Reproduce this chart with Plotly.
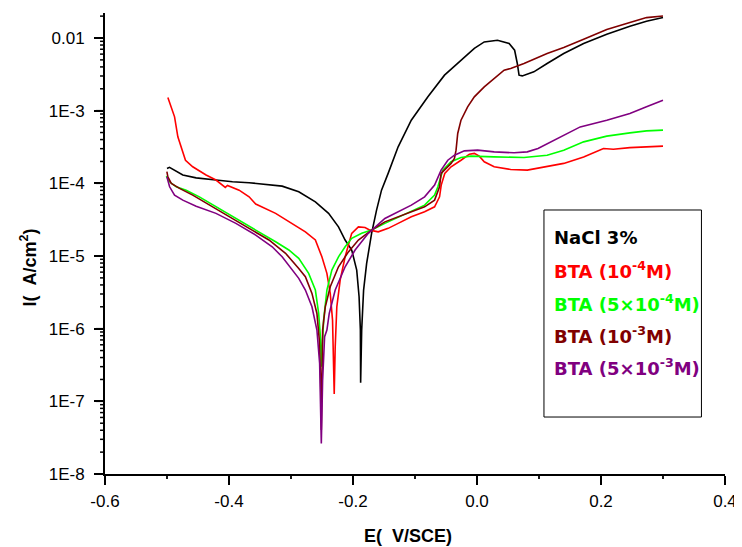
import plotly.graph_objects as go

# ---- data (E in V/SCE, I in A/cm^2) ----
E_nacl = [-0.500, -0.496, -0.4745, -0.453, -0.421, -0.3944, -0.3676, -0.341, -0.3143, -0.2875,
          -0.2607, -0.2394, -0.2234, -0.2127, -0.2021, -0.194, -0.1902, -0.1881, -0.1877, -0.186,
          -0.1829, -0.178, -0.170, -0.162, -0.154, -0.1433, -0.1272, -0.106, -0.0792, -0.0524,
          -0.0258, -0.0043, 0.0117, 0.033, 0.0518, 0.0607, 0.065, 0.0678, 0.073, 0.0917,
          0.1131, 0.1399, 0.172, 0.2093, 0.2466, 0.2734, 0.300]
I_nacl = [1.60e-4, 1.66e-4, 1.30e-4, 1.19e-4, 1.11e-4, 1.05e-4, 1.02e-4, 9.75e-5, 9.15e-5, 7.64e-5,
          5.57e-5, 3.86e-5, 2.52e-5, 1.66e-5, 1.21e-5, 6.40e-6, 2.75e-6, 9.57e-7, 1.80e-7, 9.6e-7,
          3.40e-6, 7.9e-6, 2.05e-5, 4.28e-5, 8.05e-5, 1.37e-4, 3.18e-4, 7.40e-4, 1.55e-3, 3.08e-3,
          4.96e-3, 7.18e-3, 8.83e-3, 9.33e-3, 8.40e-3, 6.79e-3, 4.46e-3, 3.08e-3, 3.01e-3, 3.42e-3,
          4.46e-3, 6.12e-3, 8.40e-3, 1.13e-2, 1.45e-2, 1.70e-2, 1.91e-2]

E_bta1 = [-0.4986, -0.4878, -0.4825, -0.4745, -0.4702, -0.4585, -0.437, -0.421, -0.4104, -0.406,
          -0.4024, -0.3837, -0.3676, -0.3569, -0.3248, -0.2982, -0.2768, -0.2607, -0.2502, -0.2421,
          -0.2367, -0.233, -0.2309, -0.2303, -0.2287, -0.2261, -0.2207, -0.2127, -0.2021, -0.1913,
          -0.1806, -0.1726, -0.1593, -0.1433, -0.1272, -0.1059, -0.0845, -0.0684, -0.0604, -0.0577,
          -0.052, -0.0418, -0.0258, -0.0123, -0.0043, 0.0037, 0.0117, 0.0277, 0.0543, 0.0811,
          0.1399, 0.172, 0.204, 0.2199, 0.2466, 0.2734, 0.300]
I_bta1 = [1.52e-3, 8.22e-4, 4.36e-4, 2.71e-4, 2.08e-4, 1.69e-4, 1.30e-4, 1.11e-4, 9.45e-5, 8.78e-5,
          9.36e-5, 8.05e-5, 6.52e-5, 5.18e-5, 3.86e-5, 2.81e-5, 2.15e-5, 1.66e-5, 9.75e-6, 5.77e-6,
          3.06e-6, 1.31e-6, 3.33e-7, 1.26e-7, 5.64e-7, 2.00e-6, 4.67e-6, 9.75e-6, 2.05e-5, 2.52e-5,
          2.47e-5, 2.27e-5, 2.15e-5, 2.40e-5, 2.81e-5, 3.46e-5, 4.06e-5, 4.75e-5, 6.52e-5, 9.45e-5,
          1.37e-4, 1.69e-4, 2.08e-4, 2.52e-4, 2.58e-4, 2.37e-4, 1.98e-4, 1.69e-4, 1.55e-4, 1.52e-4,
          1.88e-4, 2.31e-4, 3.02e-4, 2.95e-4, 3.10e-4, 3.18e-4, 3.25e-4]

E_bta2 = [-0.5011, -0.4958, -0.4851, -0.4691, -0.4478, -0.421, -0.3889, -0.3569, -0.3248, -0.3035,
          -0.2875, -0.2715, -0.2607, -0.2554, -0.2522, -0.2511, -0.2474, -0.2421, -0.2341, -0.2234,
          -0.2127, -0.2021, -0.186, -0.170, -0.1486, -0.1272, -0.1059, -0.0845, -0.0684, -0.0631,
          -0.0551, -0.0418, -0.0258, -0.0098, 0.0277, 0.0758, 0.1131, 0.1399, 0.172, 0.2093,
          0.2466, 0.2734, 0.300]
I_bta2 = [1.26e-4, 1.05e-4, 8.96e-5, 8.05e-5, 6.52e-5, 4.75e-5, 3.29e-5, 2.27e-5, 1.57e-5, 1.21e-5,
          9.27e-6, 5.77e-6, 3.40e-6, 1.62e-6, 6.97e-7, 2.99e-7, 1.31e-6, 3.40e-6, 6.40e-6, 9.75e-6,
          1.34e-5, 1.75e-5, 2.05e-5, 2.27e-5, 2.81e-5, 3.40e-5, 4.06e-5, 5.01e-5, 6.89e-5, 8.96e-5,
          1.52e-4, 1.98e-4, 2.27e-4, 2.37e-4, 2.31e-4, 2.27e-4, 2.44e-4, 2.86e-4, 3.72e-4, 4.46e-4,
          4.95e-4, 5.27e-4, 5.40e-4]

E_bta3 = [-0.5002, -0.4986, -0.4931, -0.4798, -0.4585, -0.4317, -0.3997, -0.3676, -0.3356, -0.3088,
          -0.2875, -0.2768, -0.2662, -0.2582, -0.2543, -0.2522, -0.2511, -0.249, -0.2447, -0.2367,
          -0.2234, -0.2074, -0.1913, -0.170, -0.1486, -0.1272, -0.1059, -0.0845, -0.0684, -0.0604,
          -0.0579, -0.0418, -0.0364, -0.0338, -0.0311, -0.0258, -0.0151, -0.0043, 0.0117, 0.0277,
          0.0437, 0.0543, 0.0758, 0.1131, 0.1399, 0.172, 0.2093, 0.2466, 0.2734, 0.300]
I_bta3 = [1.45e-4, 1.23e-4, 9.97e-5, 8.51e-5, 6.89e-5, 5.01e-5, 3.46e-5, 2.40e-5, 1.66e-5, 1.09e-5,
          6.75e-6, 5.18e-6, 3.06e-6, 1.62e-6, 6.97e-7, 1.96e-7, 4.03e-8, 9.57e-7, 2.00e-6, 3.77e-6,
          7.10e-6, 1.14e-5, 1.66e-5, 2.27e-5, 2.95e-5, 3.46e-5, 4.06e-5, 4.75e-5, 5.87e-5, 8.96e-5,
          1.37e-4, 1.88e-4, 2.20e-4, 2.86e-4, 4.85e-4, 7.40e-4, 1.13e-3, 1.55e-3, 2.12e-3, 2.77e-3,
          3.61e-3, 3.80e-3, 4.46e-3, 6.12e-3, 7.40e-3, 9.62e-3, 1.31e-2, 1.63e-2, 1.91e-2, 2.01e-2]

E_bta4 = [-0.5002, -0.4958, -0.4878, -0.4745, -0.453, -0.421, -0.3889, -0.3569, -0.3303, -0.3143,
          -0.2875, -0.2768, -0.2662, -0.2582, -0.2538, -0.2518, -0.2511, -0.249, -0.2458, -0.2421,
          -0.2383, -0.2287, -0.2127, -0.1966, -0.1753, -0.1486, -0.1272, -0.1059, -0.0845, -0.0684,
          -0.0579, -0.0471, -0.0364, -0.0204, 0.001, 0.0277, 0.0598, 0.0811, 0.0984, 0.1292,
          0.1665, 0.2093, 0.2466, 0.2734, 0.300]
I_bta4 = [1.23e-4, 8.96e-5, 6.89e-5, 5.87e-5, 4.85e-5, 3.86e-5, 2.81e-5, 1.94e-5, 1.34e-5, 9.75e-6,
          4.92e-6, 3.40e-6, 2.00e-6, 9.57e-7, 3.33e-7, 6.84e-8, 2.64e-8, 1.96e-7, 7.74e-7, 9.57e-7,
          1.62e-6, 3.40e-6, 7.10e-6, 1.21e-5, 2.05e-5, 3.29e-5, 4.06e-5, 5.01e-5, 6.52e-5, 9.45e-5,
          1.52e-4, 2.08e-4, 2.44e-4, 2.80e-4, 2.86e-4, 2.71e-4, 2.63e-4, 2.71e-4, 3.02e-4, 4.15e-4,
          5.98e-4, 7.40e-4, 9.14e-4, 1.13e-3, 1.39e-3]

series_names = ["NaCl 3%", "BTA (10<sup>-4</sup>M)", "BTA (5×10<sup>-4</sup>M)",
                "BTA (10<sup>-3</sup>M)", "BTA (5×10<sup>-3</sup>M)"]
series_colors = ["#000000", "#ff0000", "#00ff00", "#800000", "#800080"]
series_E = [E_nacl, E_bta1, E_bta2, E_bta3, E_bta4]
series_I = [I_nacl, I_bta1, I_bta2, I_bta3, I_bta4]

x_major = [-0.6, -0.4, -0.2, 0.0, 0.2, 0.4]
x_minor = [-0.5, -0.3, -0.1, 0.1, 0.3]
y_major = [1e-8, 1e-7, 1e-6, 1e-5, 1e-4, 1e-3, 1e-2]
y_minor = [m * d for d in y_major for m in range(2, 10) if m * d < 0.022]

MINUS = "\u2212"
# plotly's automatic labels -> labels as printed in the reference
x_label_alias = {MINUS + "0.6": "-0.6", MINUS + "0.4": "-0.4", MINUS + "0.2": "-0.2"}
y_label_alias = {"1E" + MINUS + "8": "1E-8", "1E" + MINUS + "7": "1E-7", "1E" + MINUS + "6": "1E-6",
                 "1E" + MINUS + "5": "1E-5", "1E" + MINUS + "4": "1E-4", "1E" + MINUS + "3": "1E-3"}

X_RANGE = [-0.6, 0.4]
Y_RANGE_LOG = [-8, -1.656]
PLOT_W, PLOT_H = 624, 461   # plot-area size in px (used for tick lengths in domain units)

fig = go.Figure()
for name, col, ex, iy in zip(series_names, series_colors, series_E, series_I):
    fig.add_trace(go.Scatter(x=ex, y=iy, mode="lines", name=name,
                             line=dict(color=col, width=1.6), showlegend=False))

tick_font = dict(family="Liberation Sans, Arial, sans-serif", size=17, color="black")

# page body has an 8px margin: shrink figure so the plot area lands where the reference has it
fig.update_layout(
    width=734, height=539,
    margin=dict(l=97, r=13, t=5, b=73),
    paper_bgcolor="white", plot_bgcolor="white",
    xaxis=dict(range=X_RANGE, tickmode="linear", tick0=-0.6, dtick=0.2, tickformat=".1f",
               labelalias=x_label_alias, ticklabelstandoff=2,
               showline=True, linecolor="black", linewidth=2, showgrid=False, zeroline=False,
               ticks="outside", ticklen=9, tickwidth=2, tickcolor="black", tickfont=tick_font),
    yaxis=dict(type="log", range=Y_RANGE_LOG, tickmode="linear", tick0=0, dtick=1,
               exponentformat="E", labelalias=y_label_alias, ticklabelstandoff=6,
               showline=True, linecolor="black", linewidth=2, showgrid=False, zeroline=False,
               ticks="outside", ticklen=9, tickwidth=2, tickcolor="black", tickfont=tick_font),
)

# tick marks drawn explicitly on the axes' own coordinates (major 9px, minor 5px)
for v in x_major + x_minor:
    ln = 9 if v in x_major else 5
    fig.add_shape(type="line", xref="x", yref="y domain", x0=v, x1=v, y0=0, y1=-ln / PLOT_H,
                  line=dict(color="black", width=1.8), layer="above")
for v in y_major + y_minor:
    ln = 9 if v in y_major else 5
    fig.add_shape(type="line", xref="x domain", yref="y", x0=0, x1=-ln / PLOT_W, y0=v, y1=v,
                  line=dict(color="black", width=1.5), layer="above")

# axis titles
title_font = dict(family="Liberation Sans, Arial, sans-serif", size=18, color="black")
fig.add_annotation(text="<b>E(\u00a0\u00a0V/SCE)</b>", xref="paper", yref="paper",
                   x=0.489, y=-0.1345, xanchor="center", yanchor="middle",
                   showarrow=False, font=title_font)
fig.add_annotation(text="<b>I(\u00a0\u00a0A/cm<sup>2</sup>)</b>", xref="paper", yref="paper",
                   x=-0.1234, y=0.449, xanchor="center", yanchor="middle", textangle=-90,
                   showarrow=False, font=title_font)

# legend box
fig.add_shape(type="rect", xref="paper", yref="paper", x0=0.708, x1=0.962, y0=0.1236, y1=0.5727,
              line=dict(color="black", width=1), fillcolor="white", layer="above")
leg_y = [0.514, 0.443, 0.371, 0.302, 0.233]
for name, col, yy in zip(series_names, series_colors, leg_y):
    fig.add_annotation(text="<b>" + name + "</b>", xref="paper", yref="paper", x=0.7212, y=yy,
                       xanchor="left", yanchor="middle", showarrow=False,
                       font=dict(family="DejaVu Sans, Verdana, sans-serif", size=18, color=col))

fig.write_html("out.html")
